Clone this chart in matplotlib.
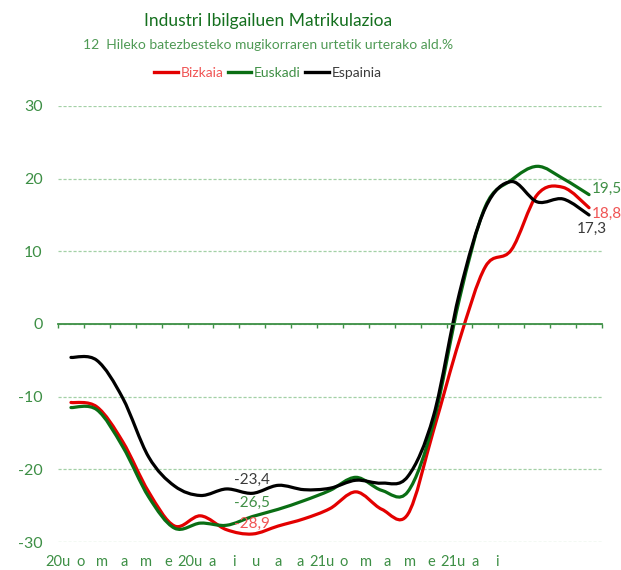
import matplotlib
matplotlib.use('Agg')
import matplotlib.pyplot as plt
from matplotlib.path import Path
from matplotlib.patches import PathPatch
from matplotlib.lines import Line2D
import matplotlib.transforms as mtransforms
import numpy as np

plt.rcParams['font.family'] = ['Lato', 'DejaVu Sans']

months = ['20u', 'o', 'm', 'a', 'm', 'e', '20u', 'a', 'i', 'u', 'a', 'a',
          '21u', 'o', 'm', 'a', 'm', 'e', '21u', 'a', 'i']
bizkaia = [-10.8, -11.4, -16.2, -23.1, -27.8, -26.4, -28.3, -28.9, -27.8, -26.8, -25.4,
           -23.1, -25.5, -26.2, -14.6, -2.2, 7.9, 10.2, 17.8, 18.8, 16.0]
euskadi = [-11.5, -11.8, -16.9, -23.8, -28.1, -27.4, -27.7, -26.5, -25.5, -24.3, -22.9,
           -21.1, -22.9, -23.1, -13.5, 3.5, 16.2, 19.8, 21.7, 20.0, 17.8]
espainia = [-4.6, -5.0, -10.2, -18.3, -22.3, -23.6, -22.7, -23.3, -22.2, -22.8, -22.6,
            -21.5, -21.9, -21.0, -12.6, 4.3, 16.0, 19.6, 16.8, 17.2, 15.0]
series_names = ['Bizkaia', 'Euskadi', 'Espainia']
mid_labels = [-28.9, -26.5, -23.4]
end_labels = [18.8, 19.5, 17.3]
yticks = [-30, -20, -10, 0, 10, 20, 30]

line_colors = ['#e30000', '#0a6e14', '#000000']
text_colors = ['#f05555', '#3f8f45', '#3a3a3a']
axis_green = '#3d8f45'
grid_green = '#a3d0a6'


def smoothPath(xs, ys):
    # excel-like smoothed line: bezier segments with catmull-rom handles
    p = np.column_stack([xs, ys]).astype(float)
    pts = np.vstack([p[0], p, p[-1]])
    verts = [p[0]]
    codes = [Path.MOVETO]
    for i in range(1, len(pts) - 2):
        c1 = pts[i] + (pts[i + 1] - pts[i - 1]) / 6.0
        c2 = pts[i + 1] - (pts[i + 2] - pts[i]) / 6.0
        verts += [c1, c2, pts[i + 1]]
        codes += [Path.CURVE4] * 3
    return Path(verts, codes)


fig = plt.figure(figsize=(6.21, 5.70), dpi=100)
ax = fig.add_axes([58 / 621, 1 - 542 / 570, 544 / 621, 436 / 570])

x = np.arange(len(months))
all_series = [bizkaia, euskadi, espainia]
for vals, col in zip(all_series, line_colors):
    patch = PathPatch(smoothPath(x, vals), fill=False, edgecolor=col, lw=2.3,
                      capstyle='round', joinstyle='round')
    ax.add_patch(patch)

ax.set_xlim(-0.5, len(months) - 0.5)
ax.set_ylim(-30, 30)
ax.set_yticks(yticks)
ax.set_yticklabels([str(v) for v in yticks])
ax.tick_params(axis='y', length=0, pad=11, labelsize=11.5, labelcolor=axis_green)
ax.yaxis.grid(True, linestyle=(0, (2.5, 1.5)), color=grid_green, lw=0.9)
ax.set_axisbelow(True)

for s in ['top', 'right', 'left']:
    ax.spines[s].set_visible(False)
ax.spines['bottom'].set_position(('data', 0))
ax.spines['bottom'].set_color(axis_green)
ax.spines['bottom'].set_linewidth(1.3)
ax.spines['bottom'].set_zorder(3)
ax.set_xticks(np.arange(-0.5, len(months), 1.0))
ax.tick_params(axis='x', direction='out', length=3, width=1, color=axis_green,
               labelbottom=False)

# category labels sit below the plot, packed tighter than the categories
label_pos = np.arange(len(months)) * 0.8475 - 0.49
trans = mtransforms.blended_transform_factory(ax.transData, ax.transAxes)
for pos, lab in zip(label_pos, months):
    ax.text(pos, -0.046, lab, transform=trans, ha='center', va='center',
            fontsize=10.5, color=axis_green)

# data labels
mid_idx = 7
mid_offsets = [7, 10, 9.5]
for vals, lab, col, dy in zip(all_series, mid_labels, text_colors, mid_offsets):
    ax.annotate(f'{lab:.1f}'.replace('.', ','), (mid_idx, vals[mid_idx]),
                xytext=(0, dy), textcoords='offset points', ha='center', va='center',
                fontsize=11, color=col)

end_idx = len(months) - 1
end_offsets = [(2, -4.5), (2, 4.5), (-9, -10)]
for vals, lab, col, off in zip(all_series, end_labels, text_colors, end_offsets):
    ax.annotate(f'{lab:.1f}'.replace('.', ','), (end_idx, vals[end_idx]),
                xytext=off, textcoords='offset points', ha='left', va='center',
                fontsize=11, color=col, annotation_clip=False)

cx = 268 / 621
fig.text(cx, 1 - 21 / 570, 'Industri Ibilgailuen Matrikulazioa', ha='center', va='center',
         fontsize=12.5, color='#15701f')
fig.text(cx, 1 - 45 / 570, '12  Hileko batezbesteko mugikorraren urtetik urterako ald.%',
         ha='center', va='center', fontsize=10, color='#4f9a55')

handles = [Line2D([], [], color=c, lw=2.4) for c in line_colors]
leg = fig.legend(handles, series_names, loc='center', bbox_to_anchor=(cx, 1 - 73 / 570),
                 ncol=3, frameon=False, fontsize=10, handlelength=1.7, handletextpad=0.2,
                 columnspacing=0.3)
for t, c in zip(leg.get_texts(), text_colors):
    t.set_color(c)

fig.savefig('out.png', dpi=100)
